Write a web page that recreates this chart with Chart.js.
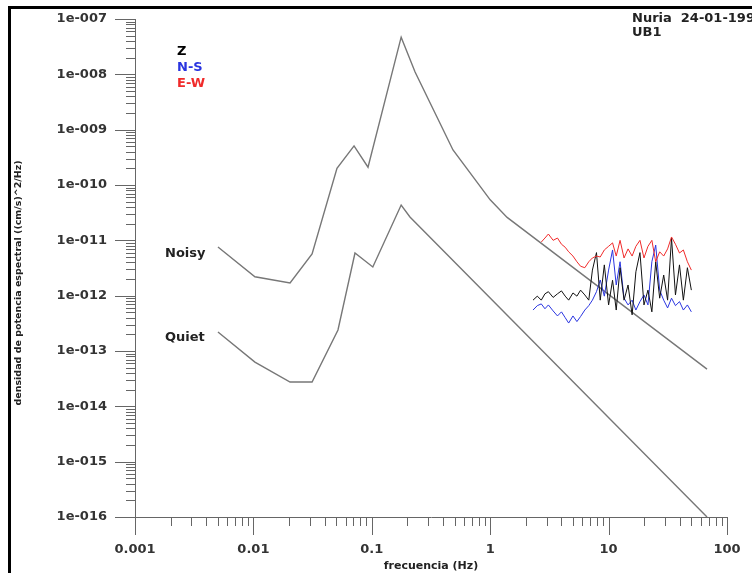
<!DOCTYPE html>
<html>
<head>
<meta charset="utf-8">
<script src="https://cdn.jsdelivr.net/npm/chart.js@4.4.1/dist/chart.umd.min.js"></script>
<style>
html, body { margin: 0; padding: 0; background: #fff; }
#wrap { width: 752px; height: 573px; }
</style>
</head>
<body>
<div id="wrap"><canvas id="psdChart" width="752" height="573"></canvas></div>
<script>
// Axis ticks
const xDecades = [0.001, 0.01, 0.1, 1, 10, 100];
const yDecades = [1e-16, 1e-15, 1e-14, 1e-13, 1e-12, 1e-11, 1e-10, 1e-9, 1e-8, 1e-7];

// Noise model curves (Hz, psd)
const noisyFreq = [0.00502, 0.0103, 0.0204, 0.0313, 0.0508, 0.0708, 0.0929, 0.177, 0.232, 0.485, 1.0, 1.39, 67.8];
const noisyPsd  = [7.6e-12, 2.2e-12, 1.7e-12, 5.7e-12, 2.0e-10, 5.1e-10, 2.1e-10, 4.7e-8, 1.1e-8, 4.3e-10, 5.4e-11, 2.6e-11, 4.7e-14];
const quietFreq = [0.00502, 0.0103, 0.0204, 0.0313, 0.0518, 0.0721, 0.102, 0.177, 0.21, 67.8];
const quietPsd  = [2.2e-13, 6.3e-14, 2.75e-14, 2.75e-14, 2.4e-13, 5.9e-12, 3.3e-12, 4.35e-11, 2.64e-11, 1.0e-16];

// Measured spectra
const traceFreq = [2.3, 2.5, 2.7, 2.9, 3.1, 3.4, 3.7, 4.0, 4.3, 4.6, 5.0, 5.4, 5.8, 6.3, 6.8, 7.3, 7.9, 8.5, 9.2, 10,
                   10.8, 11.6, 12.5, 13.5, 14.6, 15.8, 17, 18.4, 19.9, 21.5, 23.2, 25, 27, 29.2, 31.5, 34, 36.7, 39.7, 42.8, 46.3, 50];
const zPsd  = [8.3e-13, 9.8e-13, 8.3e-13, 1.08e-12, 1.18e-12, 9.3e-13, 1.08e-12, 1.22e-12, 9.8e-13, 8.3e-13,
               1.12e-12, 9.8e-13, 1.26e-12, 1.03e-12, 8.3e-13, 2.9e-12, 6.0e-12, 8.3e-13, 3.6e-12, 6.8e-13,
               1.9e-12, 5.5e-13, 3.2e-12, 8.3e-13, 1.56e-12, 4.5e-13, 2.7e-12, 6.0e-12, 6.8e-13, 1.26e-12,
               5.1e-13, 4.1e-12, 9.0e-13, 2.36e-12, 8.3e-13, 1.1e-11, 1.03e-12, 3.6e-12, 8.3e-13, 3.2e-12, 1.26e-12];
const nsPsd = [5.5e-13, 6.6e-13, 7.1e-13, 5.8e-13, 6.8e-13, 5.3e-13, 4.3e-13, 5.1e-13, 4.0e-13, 3.2e-13,
               4.3e-13, 3.4e-13, 4.2e-13, 5.5e-13, 6.6e-13, 8.3e-13, 1.18e-12, 1.92e-12, 9.8e-13, 2.9e-12,
               6.7e-12, 1.56e-12, 4.1e-12, 9.0e-13, 6.8e-13, 8.3e-13, 5.5e-13, 7.8e-13, 1.03e-12, 6.8e-13,
               4.1e-12, 8.2e-12, 1.26e-12, 8.3e-13, 6.0e-13, 9.0e-13, 6.6e-13, 7.8e-13, 5.5e-13, 6.8e-13, 5.1e-13];
const ewPsd = [null, null, 9.3e-12, 1.1e-11, 1.3e-11, 1.0e-11, 1.1e-11, 8.5e-12, 7.5e-12, 6.2e-12,
               5.2e-12, 4.1e-12, 3.4e-12, 3.2e-12, 4.1e-12, 4.8e-12, 5.2e-12, 5.0e-12, 6.7e-12, 7.8e-12,
               9.0e-12, 5.2e-12, 1.0e-11, 4.8e-12, 7.0e-12, 5.2e-12, 7.8e-12, 1.0e-11, 4.8e-12, 7.8e-12,
               1.0e-11, 4.1e-12, 6.2e-12, 5.2e-12, 7.0e-12, 1.15e-11, 8.5e-12, 5.9e-12, 6.7e-12, 4.1e-12, 2.9e-12];

function pairs(xs, ys) {
    return xs.map((x, i) => ({ x: x, y: ys[i] })).filter(p => p.y !== null);
}

function noPad(s) {
    s.paddingTop = 0; s.paddingBottom = 0; s.paddingLeft = 0; s.paddingRight = 0;
}

const FONT = 'DejaVu Sans';

// tick marks, frame and free text
const decorPlugin = {
    id: 'decor',
    afterDraw(chart) {
        const ctx = chart.ctx;
        const xs = chart.scales.x, ys = chart.scales.y;
        const area = chart.chartArea;
        ctx.save();

        // tick marks
        ctx.strokeStyle = '#666';
        ctx.lineWidth = 1;
        ctx.beginPath();
        xDecades.forEach(d => {
            for (let m = 1; m <= 9; m++) {
                const v = d * m;
                if (v > xs.max * 1.0001) continue;
                const p = Math.round(xs.getPixelForValue(v)) + 0.5;
                ctx.moveTo(p, area.bottom);
                ctx.lineTo(p, area.bottom + (m === 1 ? 18 : 9));
            }
        });
        yDecades.forEach(d => {
            for (let m = 1; m <= 9; m++) {
                const v = d * m;
                if (v > ys.max * 1.0001) continue;
                const p = Math.round(ys.getPixelForValue(v)) + 0.5;
                ctx.moveTo(area.left, p);
                ctx.lineTo(area.left - (m === 1 ? 20 : 9), p);
            }
        });
        ctx.stroke();

        // black frame at top and left
        ctx.fillStyle = '#000';
        ctx.fillRect(8, 6, 744, 3);
        ctx.fillRect(8, 6, 3, 567);

        // texts
        ctx.textBaseline = 'middle';
        ctx.textAlign = 'left';
        ctx.font = 'bold 13px "' + FONT + '"';
        ctx.fillStyle = '#000';
        ctx.fillText('Z', 177, 52);
        ctx.fillStyle = '#2a35e0';
        ctx.fillText('N-S', 177, 68);
        ctx.fillStyle = '#f02a2a';
        ctx.fillText('E-W', 177, 84);

        ctx.fillStyle = '#222';
        ctx.fillText('Noisy', 165, 254);
        ctx.fillText('Quiet', 165, 338);
        ctx.fillText('Nuria  24-01-1999', 632, 19);
        ctx.fillText('UB1', 632, 33);

        ctx.textAlign = 'center';
        ctx.font = 'bold 11px "' + FONT + '"';
        ctx.fillText('frecuencia (Hz)', (area.left + area.right) / 2, 566);

        ctx.save();
        ctx.translate(19, (area.top + area.bottom) / 2 + 15);
        ctx.rotate(-Math.PI / 2);
        ctx.font = 'bold 9.5px "' + FONT + '"';
        ctx.fillText('densidad de potencia espectral ((cm/s)^2/Hz)', 0, 0);
        ctx.restore();

        ctx.restore();
    }
};

const ctx = document.getElementById('psdChart').getContext('2d');
new Chart(ctx, {
    type: 'scatter',
    data: {
        datasets: [
            { label: 'E-W', data: pairs(traceFreq, ewPsd), borderColor: '#f02a2a', borderWidth: 1 },
            { label: 'Z', data: pairs(traceFreq, zPsd), borderColor: '#111', borderWidth: 1 },
            { label: 'N-S', data: pairs(traceFreq, nsPsd), borderColor: '#2a35e0', borderWidth: 1 },
            { label: 'Noisy', data: pairs(noisyFreq, noisyPsd), borderColor: '#777', borderWidth: 1.4 },
            { label: 'Quiet', data: pairs(quietFreq, quietPsd), borderColor: '#777', borderWidth: 1.4 }
        ]
    },
    options: {
        responsive: false,
        animation: false,
        showLine: true,
        elements: { point: { radius: 0, hoverRadius: 0 }, line: { tension: 0 } },
        layout: { autoPadding: false, padding: { top: 19, right: 25, left: 0, bottom: 0 } },
        plugins: {
            legend: { display: false },
            tooltip: { enabled: false }
        },
        scales: {
            x: {
                type: 'logarithmic',
                min: 0.001,
                max: 100,
                grid: { display: false, drawTicks: false },
                border: { display: true, color: '#666', width: 1 },
                afterBuildTicks: s => { s.ticks = xDecades.map(v => ({ value: v })); },
                afterFit: s => { s.height = 56; noPad(s); },
                ticks: {
                    autoSkip: false,
                    maxRotation: 0,
                    padding: 25,
                    color: '#333',
                    font: { family: FONT, size: 13, weight: 'bold' },
                    callback: v => String(v)
                }
            },
            y: {
                type: 'logarithmic',
                min: 1e-16,
                max: 1e-7,
                grid: { display: false, drawTicks: false },
                border: { display: true, color: '#666', width: 1 },
                afterBuildTicks: s => { s.ticks = yDecades.map(v => ({ value: v })); },
                afterFit: s => { s.width = 135; noPad(s); },
                ticks: {
                    autoSkip: false,
                    padding: 28,
                    color: '#333',
                    font: { family: FONT, size: 13, weight: 'bold' },
                    callback: v => '1e-' + String(Math.round(-Math.log10(v))).padStart(3, '0')
                }
            }
        }
    },
    plugins: [decorPlugin]
});
</script>
</body>
</html>
